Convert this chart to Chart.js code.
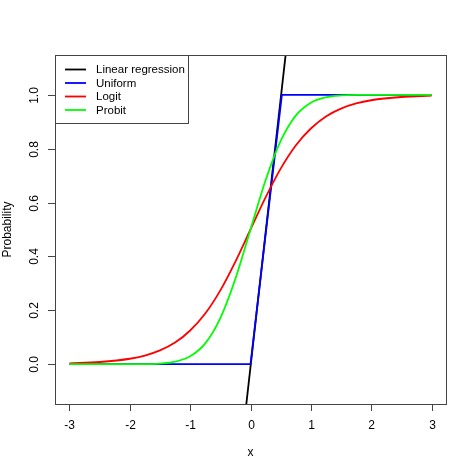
<!DOCTYPE html>
<html>
<head>
<meta charset="utf-8">
<script src="https://cdn.jsdelivr.net/npm/chart.js@4.4.1/dist/chart.umd.min.js"></script>
<style>
    html, body { margin: 0; padding: 0; background: #fff; }
    #wrap { width: 474px; height: 474px; }
</style>
</head>
<body>
<div id="wrap"><canvas id="probChart" width="474" height="474"></canvas></div>
<script>
// valori
const xValues = [-3, -2.5, -2, -1.75, -1.5, -1.25, -1, -0.75, -0.5, -0.25, 0,
    0.25, 0.5, 0.75, 1, 1.25, 1.5, 1.75, 2, 2.5, 3];
const logitValues = [0.003, 0.008, 0.02, 0.032, 0.051, 0.08, 0.125, 0.188, 0.274, 0.381, 0.5,
    0.619, 0.726, 0.812, 0.875, 0.92, 0.949, 0.968, 0.98, 0.992, 0.997];
const probitValues = [0, 0, 0, 0, 0.002, 0.009, 0.029, 0.077, 0.171, 0.317, 0.5,
    0.683, 0.829, 0.923, 0.971, 0.991, 0.998, 1, 1, 1, 1];
const uniformX = [-3, 0, 0.52, 3];
const uniformY = [0, 0, 1, 1];
const linearX = [-0.2, 0.7];
const linearY = [-0.408, 1.383];

const xTicks = [-3, -2, -1, 0, 1, 2, 3];
const yTicks = [0, 0.2, 0.4, 0.6, 0.8, 1.0];
const yTickLabels = ["0.0", "0.2", "0.4", "0.6", "0.8", "1.0"];
const seriesNames = ["Linear regression", "Uniform", "Logit", "Probit"];
const seriesColors = ["#000000", "#0000ff", "#ff0000", "#00ff00"];

function toPoints(xs, ys) {
    return xs.map((x, i) => ({ x: x, y: ys[i] }));
}

const FONT = "'Liberation Sans', Arial, sans-serif";

// assi, box e legenda disegnati come in R
const rStyle = {
    id: "rStyle",
    afterDraw(chart) {
        const ctx = chart.ctx;
        const area = chart.chartArea;
        const xs = chart.scales.x;
        const ys = chart.scales.y;
        ctx.save();
        ctx.strokeStyle = "#444";
        ctx.lineWidth = 1;
        ctx.strokeRect(area.left + 0.5, area.top + 0.5, area.right - area.left, area.bottom - area.top);

        ctx.fillStyle = "#000";
        ctx.font = "12px " + FONT;
        // asse x
        ctx.textAlign = "center";
        ctx.textBaseline = "middle";
        xTicks.forEach((v) => {
            const px = Math.round(xs.getPixelForValue(v)) + 0.5;
            ctx.beginPath();
            ctx.moveTo(px, area.bottom);
            ctx.lineTo(px, area.bottom + 7);
            ctx.stroke();
            ctx.fillText(String(v), px, area.bottom + 22);
        });
        ctx.fillText("x", (area.left + area.right) / 2, area.bottom + 49);

        // asse y
        yTicks.forEach((v, i) => {
            const py = Math.round(ys.getPixelForValue(v)) + 0.5;
            ctx.beginPath();
            ctx.moveTo(area.left, py);
            ctx.lineTo(area.left - 7, py);
            ctx.stroke();
            ctx.save();
            ctx.translate(area.left - 20, py);
            ctx.rotate(-Math.PI / 2);
            ctx.fillText(yTickLabels[i], 0, 0);
            ctx.restore();
        });
        ctx.save();
        ctx.translate(8, (area.top + area.bottom) / 2);
        ctx.rotate(-Math.PI / 2);
        ctx.fillText("Probability", 0, 0);
        ctx.restore();

        // legenda
        const lx = area.left, ly = area.top;
        ctx.fillStyle = "#fff";
        ctx.fillRect(lx, ly, 133, 68);
        ctx.strokeRect(lx + 0.5, ly + 0.5, 133, 68);
        ctx.font = "11.5px " + FONT;
        ctx.textAlign = "left";
        seriesNames.forEach((name, i) => {
            const ry = ly + 14.5 + i * 13.5;
            ctx.strokeStyle = seriesColors[i];
            ctx.lineWidth = 1.8;
            ctx.beginPath();
            ctx.moveTo(lx + 10, ry);
            ctx.lineTo(lx + 31, ry);
            ctx.stroke();
            ctx.fillStyle = "#000";
            ctx.fillText(name, lx + 41, ry + 0.5);
        });
        ctx.restore();
    },
};

const ctx = document.getElementById("probChart").getContext("2d");
new Chart(ctx, {
    type: "scatter",
    data: {
        datasets: [
            {
                label: seriesNames[0],
                data: toPoints(linearX, linearY),
                borderColor: seriesColors[0],
                order: 4,
            },
            {
                label: seriesNames[1],
                data: toPoints(uniformX, uniformY),
                borderColor: seriesColors[1],
                order: 3,
            },
            {
                label: seriesNames[2],
                data: toPoints(xValues, logitValues),
                borderColor: seriesColors[2],
                cubicInterpolationMode: "monotone",
                order: 2,
            },
            {
                label: seriesNames[3],
                data: toPoints(xValues, probitValues),
                borderColor: seriesColors[3],
                cubicInterpolationMode: "monotone",
                order: 1,
            },
        ],
    },
    options: {
        responsive: false,
        animation: false,
        showLine: true,
        elements: {
            point: { radius: 0, hoverRadius: 0 },
            line: { borderWidth: 1.8, fill: false },
        },
        layout: { padding: { left: 55, top: 55, right: 28, bottom: 70 } },
        plugins: {
            legend: { display: false },
            tooltip: { enabled: false },
        },
        scales: {
            x: {
                type: "linear",
                display: false,
                min: -3.24,
                max: 3.24,
                afterBuildTicks: (scale) => {
                    scale.ticks = xTicks.map((v) => ({ value: v }));
                },
            },
            y: {
                type: "linear",
                display: false,
                min: -0.148,
                max: 1.148,
                afterBuildTicks: (scale) => {
                    scale.ticks = yTicks.map((v) => ({ value: v }));
                },
            },
        },
    },
    plugins: [rStyle],
});
</script>
</body>
</html>
